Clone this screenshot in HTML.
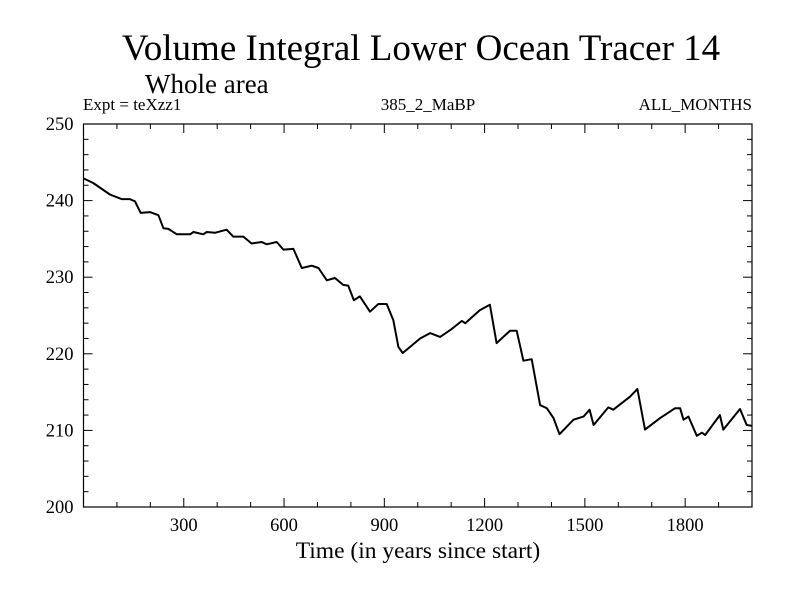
<!DOCTYPE html>
<html><head><meta charset="utf-8"><style>
body{margin:0;background:#fff}
svg text{font-family:"Liberation Serif",serif;fill:#000}
</style></head><body>
<svg width="800" height="600">
<text x="421" y="60" font-size="37" text-anchor="middle">Volume Integral Lower Ocean Tracer 14</text>
<text x="145" y="93" font-size="27">Whole area</text>
<text x="83" y="110" font-size="17">Expt = teXzz1</text>
<text x="428" y="110" font-size="17" text-anchor="middle">385_2_MaBP</text>
<text x="752" y="110" font-size="17" text-anchor="end">ALL_MONTHS</text>
<g id="axes"></g>
<path id="line" fill="none" stroke="#000" stroke-width="2" stroke-linejoin="round"/>
<text x="418" y="558" font-size="23.5" text-anchor="middle">Time (in years since start)</text>
</svg>
<script>
const years=[0,29,79,114,139,154,171,199,224,239,254,279,319,329,358,369,393,428,448,478,503,533,548,578,598,628,653,683,703,728,752,777,792,809,827,857,882,907,927,942,955,977,1007,1037,1067,1097,1132,1142,1186,1216,1236,1256,1276,1296,1316,1341,1366,1386,1406,1424,1466,1496,1514,1526,1570,1585,1635,1657,1680,1725,1770,1785,1795,1810,1835,1850,1860,1904,1914,1964,1984,1999];
const values=[242.9,242.3,240.8,240.2,240.2,239.9,238.4,238.5,238.1,236.4,236.3,235.6,235.6,235.9,235.6,235.9,235.8,236.2,235.3,235.3,234.4,234.6,234.3,234.6,233.6,233.7,231.2,231.5,231.2,229.6,229.9,229.0,228.9,227.0,227.5,225.5,226.5,226.5,224.4,220.9,220.1,220.9,222.0,222.7,222.2,223.1,224.3,224.0,225.7,226.4,221.4,222.2,223.0,223.0,219.1,219.3,213.3,212.9,211.6,209.5,211.4,211.8,212.7,210.7,213.0,212.7,214.4,215.4,210.1,211.6,212.9,212.9,211.4,211.8,209.3,209.7,209.4,212.0,210.1,212.8,210.7,210.6];
const xTicks=[300,600,900,1200,1500,1800];
const yTicks=[200,210,220,230,240,250];
const L=83.5,R=752,T=124,B=507,X0=0,X1=2000,Y0=200,Y1=250;
const sx=v=>L+(v-X0)/(X1-X0)*(R-L), sy=v=>B-(v-Y0)/(Y1-Y0)*(B-T);
const NS='http://www.w3.org/2000/svg', ax=document.getElementById('axes');
function ln(x1,y1,x2,y2,name){const e=document.createElementNS(NS,'line');
e.setAttribute('x1',x1);e.setAttribute('y1',y1);e.setAttribute('x2',x2);e.setAttribute('y2',y2);
e.setAttribute('stroke','#000');e.setAttribute('stroke-width','1');


ax.appendChild(e);}
function tx(x,y,s,anchor,name){const e=document.createElementNS(NS,'text');
e.setAttribute('x',x);e.setAttribute('y',y);e.setAttribute('font-size','18.5');e.setAttribute('text-anchor',anchor);e.textContent=s;


ax.appendChild(e);}
const r=document.createElementNS(NS,'rect');
r.setAttribute('x',L);r.setAttribute('y',T);r.setAttribute('width',R-L);r.setAttribute('height',B-T);
r.setAttribute('fill','none');r.setAttribute('stroke','#000');r.setAttribute('stroke-width','1.2');


ax.appendChild(r);
for(let v=100;v<X1;v+=100){const x=sx(v),maj=xTicks.includes(v),l=maj?9:5;
ln(x,B,x,B-l,'x-tick');ln(x,T,x,T+l,'x-tick-top');}
xTicks.forEach(v=>tx(sx(v),B+24,String(v),'middle','x-tick-label'));
for(let v=Y0+2;v<Y1;v+=2){const y=sy(v),maj=v%10===0,l=maj?9:5;
ln(L,y,L+l,y,'y-tick');ln(R,y,R-l,y,'y-tick-right');}
yTicks.forEach(v=>tx(L-10,sy(v)+6,String(v),'end','y-tick-label'));
document.getElementById('line').setAttribute('d',years.map((y,i)=>(i?'L':'M')+sx(y).toFixed(1)+','+sy(values[i]).toFixed(1)).join(''));
</script>
</body></html>
